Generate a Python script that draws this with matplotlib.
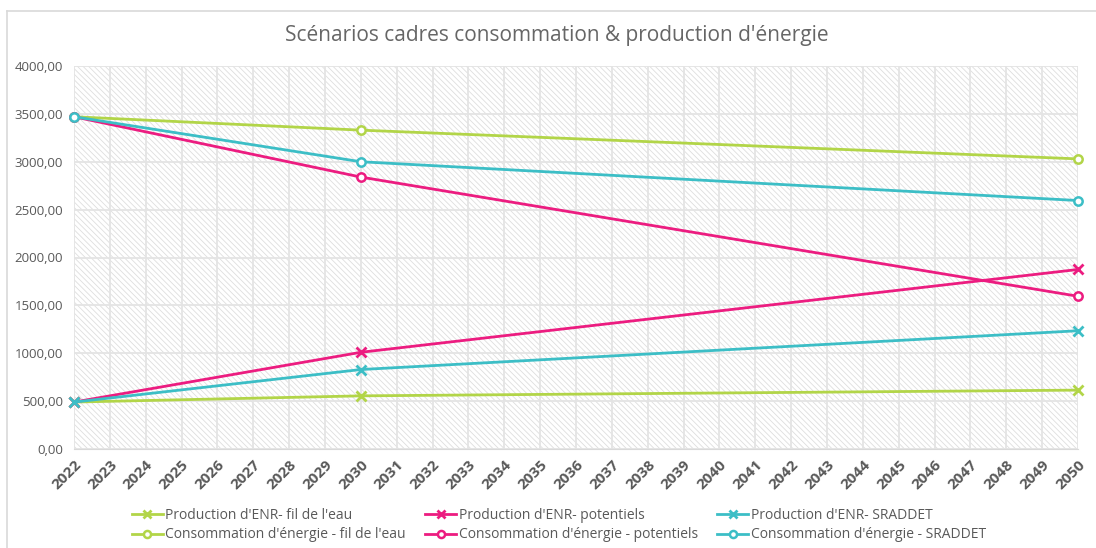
import numpy as np
import matplotlib
matplotlib.use("Agg")
import matplotlib.pyplot as plt
from matplotlib.patches import Rectangle
from matplotlib.lines import Line2D

plt.rcParams['font.family'] = ['Open Sans', 'DejaVu Sans']
plt.rcParams['hatch.color'] = '#dedede'
plt.rcParams['hatch.linewidth'] = 0.6

# category axis: every year from 2022 to 2050
years = [str(y) for y in range(2022, 2051)]
# scenario values are only known at these years
data_years = ['2022', '2030', '2050']

prod_fil = [490, 555, 615]
prod_pot = [490, 1010, 1875]
prod_srad = [490, 830, 1235]
cons_fil = [3470, 3330, 3030]
cons_pot = [3470, 2840, 1595]
cons_srad = [3470, 3000, 2595]

green = '#b2d548'
pink = '#ec1c80'
teal = '#3cbec6'

fig = plt.figure(figsize=(10.96, 5.48), dpi=100)
ax = fig.add_axes([74 / 1096, 1 - 449 / 548, (1078 - 74) / 1096, (449 - 66) / 548])

# chart frame
fig.add_artist(Line2D([7 / 1096, 7 / 1096], [0, 1 - 11 / 548], color='#d9d9d9', lw=1.2))
fig.add_artist(Line2D([7 / 1096, 1], [1 - 11 / 548, 1 - 11 / 548], color='#d9d9d9', lw=1.2))

# hatched plot area
ax.add_patch(Rectangle((0, 0), 1, 1, transform=ax.transAxes, facecolor='white',
                       hatch='\\\\\\\\\\\\', edgecolor='#dedede', lw=0, zorder=0))

xpos = [years.index(y) for y in data_years]

series = [
    (prod_fil, green, 'x', "Production d'ENR- fil de l'eau"),
    (cons_fil, green, 'o', "Consommation d'énergie - fil de l'eau"),
    (prod_pot, pink, 'x', "Production d'ENR- potentiels"),
    (cons_pot, pink, 'o', "Consommation d'énergie - potentiels"),
    (prod_srad, teal, 'x', "Production d'ENR- SRADDET"),
    (cons_srad, teal, 'o', "Consommation d'énergie - SRADDET"),
]

handles = []
for vals, col, mk, lab in series:
    if mk == 'x':
        h, = ax.plot(xpos, vals, color=col, lw=2.0, marker='x', ms=7, mew=2.0,
                     label=lab, clip_on=False, zorder=3)
    else:
        h, = ax.plot(xpos, vals, color=col, lw=2.0, marker='o', ms=6, mew=1.8,
                     mfc='white', mec=col, label=lab, clip_on=False, zorder=3)
    handles.append(h)

ax.set_xlim(0, len(years) - 1)
ax.set_ylim(0, 4000)
ax.set_xticks(range(len(years)))
ax.set_xticklabels(years, rotation=45, ha='right', rotation_mode='anchor',
                   fontsize=11, fontweight='bold', color='#595959')
yt = np.arange(0, 4001, 500)
ax.set_yticks(yt)
ax.set_yticklabels([f"{v:.2f}".replace('.', ',') for v in yt], fontsize=9.5, color='#595959')
ax.tick_params(axis='y', length=0, pad=8)
ax.tick_params(axis='x', length=0, pad=6)
ax.grid(True, color='#e4e4e4', lw=1.3)
ax.set_axisbelow(True)
for s in ax.spines.values():
    s.set_visible(False)
ax.spines['bottom'].set_visible(True)
ax.spines['bottom'].set_color('#d9d9d9')

fig.text(0.508, 1 - 35 / 548, "Scénarios cadres consommation & production d'énergie",
         ha='center', va='center', fontsize=15, color='#666666')

fig.legend(handles=handles, ncol=3, loc='center', bbox_to_anchor=(0.51, 1 - 525 / 548),
           frameon=False, fontsize=10, labelcolor='#595959', handlelength=2.2,
           handletextpad=0.2, columnspacing=1.4, labelspacing=0.35, markerscale=0.85)

fig.savefig('out.png', dpi=100)
